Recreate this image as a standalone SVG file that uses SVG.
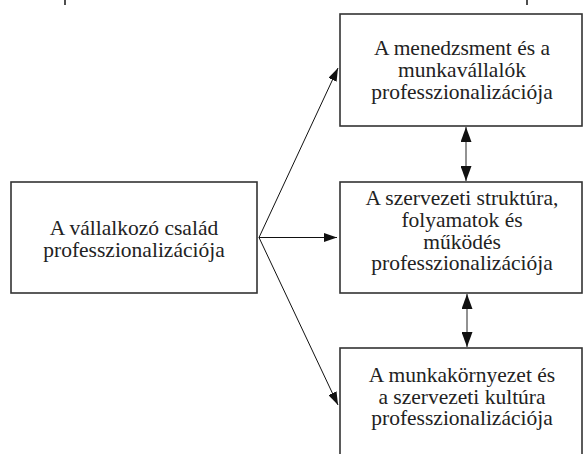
<svg xmlns="http://www.w3.org/2000/svg" width="584" height="454" viewBox="0 0 584 454">
<style>
.box{fill:#fff;stroke:#333;stroke-width:1.6}
.t{font-family:"Liberation Serif","Times New Roman",serif;font-size:21.5px;fill:#222;text-anchor:middle}
.arr{stroke:#111;stroke-width:1;fill:none}
.dbl{stroke:#777;stroke-width:1.6;fill:none}
.tick{stroke:#222;stroke-width:1.6}
</style>
<defs>
<marker id="ah" markerUnits="userSpaceOnUse" markerWidth="13" markerHeight="9" refX="13" refY="4.5" orient="auto">
<path d="M0,0 L13,4.5 L0,9 z" fill="#111"/>
</marker>
<marker id="dh" markerUnits="userSpaceOnUse" markerWidth="15" markerHeight="11" refX="15" refY="5.5" orient="auto-start-reverse">
<path d="M0,0 L15,5.5 L0,11 z" fill="#111"/>
</marker>
</defs>
<line class="tick" x1="65" y1="0" x2="65" y2="5"/>
<line class="tick" x1="527" y1="0" x2="527" y2="5"/>
<g id="connectors">
<line class="arr" x1="259" y1="237.5" x2="338" y2="68" marker-end="url(#ah)"/>
<line class="arr" x1="259" y1="237.5" x2="337" y2="237.5" marker-end="url(#ah)"/>
<line class="arr" x1="259" y1="237.5" x2="338" y2="405" marker-end="url(#ah)"/>
<line class="dbl" x1="466" y1="127" x2="466" y2="181" marker-start="url(#dh)" marker-end="url(#dh)"/>
<line class="dbl" x1="467" y1="294" x2="467" y2="347" marker-start="url(#dh)" marker-end="url(#dh)"/>
</g>
<g id="family">
<rect class="box" x="11" y="182" width="246" height="111"/>
<text class="t" x="134" y="235">A vállalkozó család</text>
<text class="t" x="134" y="257">professzionalizációja</text>
</g>
<g id="management">
<rect class="box" x="340" y="14" width="242" height="112"/>
<text class="t" x="462" y="55">A menedzsment és a</text>
<text class="t" x="462" y="77">munkavállalók</text>
<text class="t" x="462" y="99">professzionalizációja</text>
</g>
<g id="structure">
<rect class="box" x="340" y="182" width="242" height="111"/>
<text class="t" x="462" y="205">A szervezeti struktúra,</text>
<text class="t" x="462" y="227">folyamatok és</text>
<text class="t" x="462" y="248.5">működés</text>
<text class="t" x="462" y="270">professzionalizációja</text>
</g>
<g id="culture">
<rect class="box" x="340" y="348" width="242" height="120"/>
<text class="t" x="462" y="382">A munkakörnyezet és</text>
<text class="t" x="462" y="403.5">a szervezeti kultúra</text>
<text class="t" x="462" y="425">professzionalizációja</text>
</g>
</svg>
